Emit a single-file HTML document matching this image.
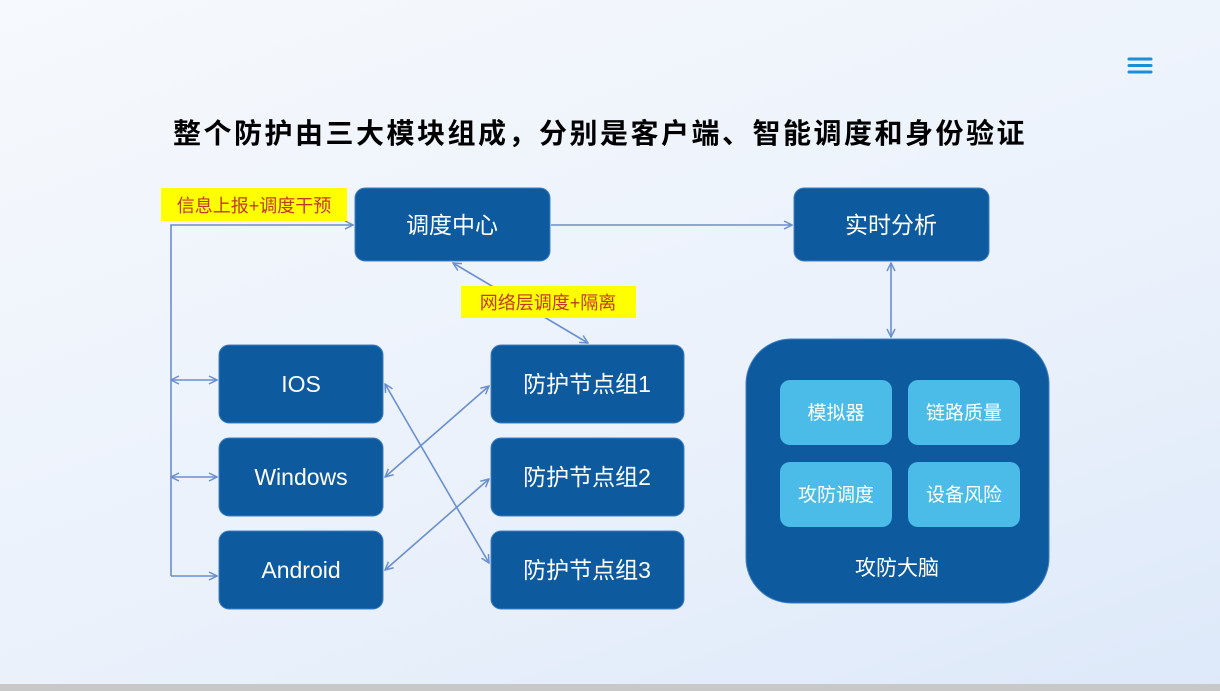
<!DOCTYPE html>
<html><head><meta charset="utf-8"><style>
html,body{margin:0;padding:0;}
body{width:1220px;height:691px;overflow:hidden;background:linear-gradient(160deg,#f6f9fd 0%,#eaf1fb 60%,#dde9f9 100%);position:relative;font-family:"Liberation Sans","Noto Sans CJK SC",sans-serif;}
.bar{position:absolute;left:0;top:684px;width:1220px;height:7px;background:#c8c8c8;}
svg{position:absolute;left:0;top:0;}
</style></head><body>
<svg width="1220" height="691" viewBox="0 0 1220 691" font-family="Liberation Sans, Noto Sans CJK SC, sans-serif">
<defs>
<marker id="a" viewBox="0 0 10 10" refX="9" refY="5" markerWidth="10" markerHeight="10" orient="auto-start-reverse" markerUnits="userSpaceOnUse"><path d="M1 1 L9 5 L1 9" fill="none" stroke="#6a8fd0" stroke-width="1.5"/></marker>
</defs>
<!-- hamburger -->
<g stroke="#1a8fd8" stroke-width="3" stroke-linecap="round"><line x1="1129" y1="59" x2="1151" y2="59"/><line x1="1129" y1="65.5" x2="1151" y2="65.5"/><line x1="1129" y1="72" x2="1151" y2="72"/></g>
<text x="600" y="143" text-anchor="middle" font-size="28" font-weight="bold" fill="#000" letter-spacing="2.5">整个防护由三大模块组成，分别是客户端、智能调度和身份验证</text>
<!-- connectors -->
<g stroke="#6a8fd0" stroke-width="1.6" fill="none">
<polyline points="171,576 171,225 353,225" marker-end="url(#a)"/>
<line x1="171" y1="380" x2="217" y2="380" marker-start="url(#a)" marker-end="url(#a)"/>
<line x1="171" y1="477" x2="217" y2="477" marker-start="url(#a)" marker-end="url(#a)"/>
<line x1="171" y1="576" x2="217" y2="576" marker-end="url(#a)"/>
<line x1="551" y1="225" x2="792" y2="225" marker-end="url(#a)"/>
<line x1="891" y1="263" x2="891" y2="337" marker-start="url(#a)" marker-end="url(#a)"/>
<line x1="453" y1="263" x2="588" y2="343" marker-start="url(#a)" marker-end="url(#a)"/>
<line x1="385" y1="384" x2="489" y2="563" marker-start="url(#a)" marker-end="url(#a)"/>
<line x1="385" y1="477" x2="489" y2="386" marker-start="url(#a)" marker-end="url(#a)"/>
<line x1="385" y1="570" x2="489" y2="479" marker-start="url(#a)" marker-end="url(#a)"/>
</g>
<!-- labels -->
<rect x="161" y="188" width="186" height="33" fill="#ffff00"/>
<text x="254" y="212" text-anchor="middle" font-size="18" fill="#c0392b">信息上报+调度干预</text>
<rect x="461" y="286" width="175" height="32" fill="#ffff00"/>
<text x="548" y="309" text-anchor="middle" font-size="18" fill="#c0392b">网络层调度+隔离</text>
<!-- boxes -->
<g fill="#0e5a9e" stroke="#3f7fc4" stroke-width="1">
<rect x="355" y="188" width="195" height="73" rx="10"/>
<rect x="794" y="188" width="195" height="73" rx="10"/>
<rect x="219" y="345" width="164" height="78" rx="10"/>
<rect x="219" y="438" width="164" height="78" rx="10"/>
<rect x="219" y="531" width="164" height="78" rx="10"/>
<rect x="491" y="345" width="193" height="78" rx="10"/>
<rect x="491" y="438" width="193" height="78" rx="10"/>
<rect x="491" y="531" width="193" height="78" rx="10"/>
<rect x="746" y="339" width="303" height="264" rx="45"/>
</g>
<g fill="#4bbbe8">
<rect x="780" y="380" width="112" height="65" rx="10"/>
<rect x="908" y="380" width="112" height="65" rx="10"/>
<rect x="780" y="462" width="112" height="65" rx="10"/>
<rect x="908" y="462" width="112" height="65" rx="10"/>
</g>
<g fill="#fff" text-anchor="middle" font-size="23">
<text x="452" y="233">调度中心</text>
<text x="891" y="233">实时分析</text>
<text x="301" y="392">IOS</text>
<text x="301" y="485">Windows</text>
<text x="301" y="578">Android</text>
<text x="587" y="392">防护节点组1</text>
<text x="587" y="485">防护节点组2</text>
<text x="587" y="578">防护节点组3</text>
<text x="897" y="575" font-size="21">攻防大脑</text>
<g font-size="19"><text x="836" y="419">模拟器</text><text x="964" y="419">链路质量</text><text x="836" y="501">攻防调度</text><text x="964" y="501">设备风险</text></g>
</g>
</svg>
<div class="bar"></div>
</body></html>
